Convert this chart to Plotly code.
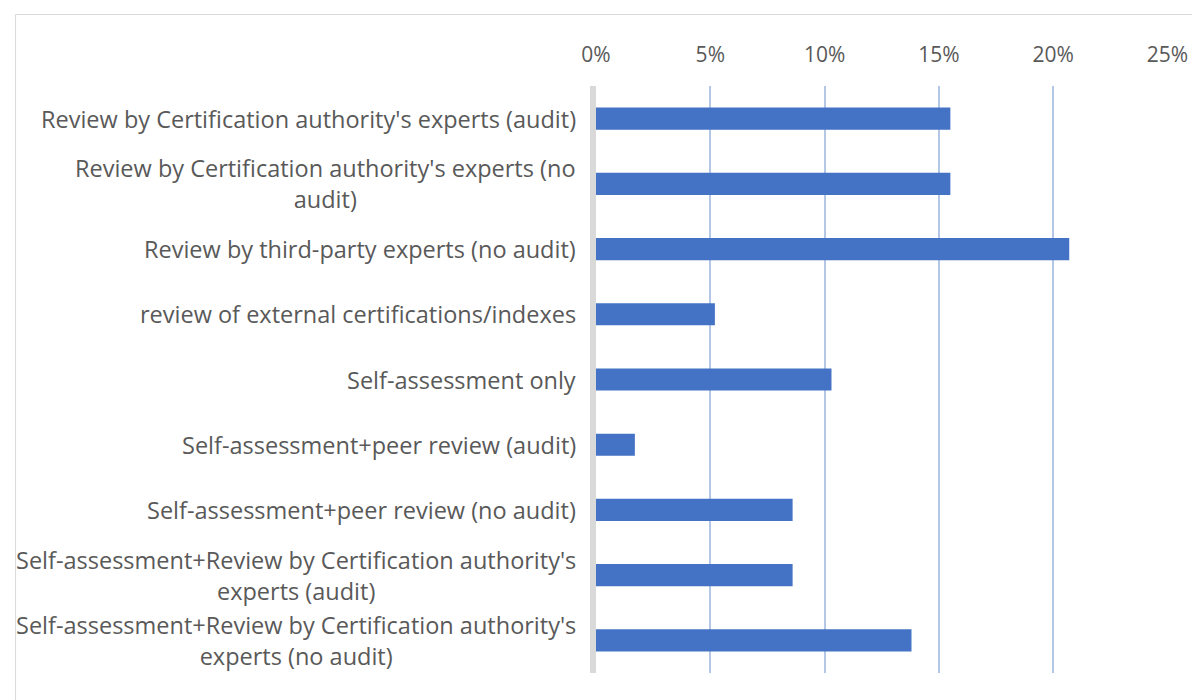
import plotly.graph_objects as go

categories = [
    "Review by Certification authority's experts (audit)",
    "Review by Certification authority's experts (no<br>audit)",
    "Review by third-party experts (no audit)",
    "review of external certifications/indexes",
    "Self-assessment only",
    "Self-assessment+peer review (audit)",
    "Self-assessment+peer review (no audit)",
    "Self-assessment+Review by Certification authority's<br>experts (audit)",
    "Self-assessment+Review by Certification authority's<br>experts (no audit)",
]
values = [0.155, 0.155, 0.207, 0.052, 0.103, 0.017, 0.086, 0.086, 0.138]
x_ticks = [0, 0.05, 0.10, 0.15, 0.20, 0.25]
x_tick_labels = ["0%", "5%", "10%", "15%", "20%", "25%"]

FONT = "Open Sans"
TXT = "#595959"
OFF = 8  # page body margin
W, H = 1200 - OFF, 700 - OFF
ML, MR, MT, MB = 596 - OFF, 27, 86 - OFF, 27
pw, ph = W - ML - MR, H - MT - MB

def px2paper_x(px):
    return (px - OFF - ML) / pw

def px2paper_y(py):
    return (H - MB - (py - OFF)) / ph

fig = go.Figure(go.Bar(
    x=values, y=list(range(len(categories))), orientation="h",
    marker=dict(color="#4472C4", line=dict(width=0)),
    hoverinfo="x",
))

annotations = []
for i, c in enumerate(categories):
    annotations.append(dict(
        x=0, xref="paper", y=i, yref="y", text=c, showarrow=False,
        xanchor="right", yanchor="middle", align="center", xshift=-18,
        font=dict(family=FONT, size=23.5, color=TXT),
    ))

fig.update_layout(
    width=W, height=H,
    margin=dict(l=ML, r=MR, t=MT, b=MB),
    paper_bgcolor="white", plot_bgcolor="white",
    bargap=0.66,
    showlegend=False,
    annotations=annotations,
    font=dict(family=FONT, color=TXT),
    shapes=[dict(
        type="rect", xref="paper", yref="paper",
        x0=px2paper_x(10.5), x1=px2paper_x(1215), y0=px2paper_y(715), y1=px2paper_y(14.5),
        line=dict(color="#D9D9D9", width=1), fillcolor="rgba(0,0,0,0)", layer="below",
    )],
    xaxis=dict(
        side="top", range=[0, 0.2502], tickvals=x_ticks, ticktext=x_tick_labels,
        showgrid=True, gridcolor="#B4C7E7", gridwidth=1.5,
        zeroline=False, showline=False, ticks="", ticklen=0,
        ticklabelstandoff=19,
        tickfont=dict(family=FONT, size=21, color=TXT),
    ),
    yaxis=dict(
        range=[len(categories) - 0.5, -0.5], showticklabels=False,
        showgrid=False, zeroline=False, showline=True,
        linecolor="#D9D9D9", linewidth=6, ticks="",
    ),
)

fig.write_html("out.html")
